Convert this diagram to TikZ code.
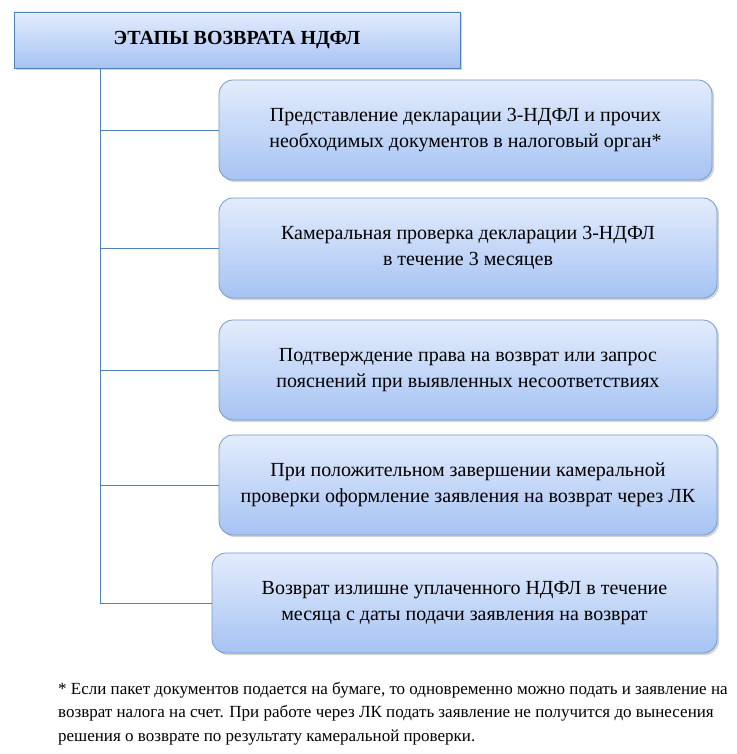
\documentclass[tikz,border=0pt]{standalone}
\usepackage{fontspec}
\setmainfont{Liberation Serif}
\usetikzlibrary{shadows}
\definecolor{bord}{HTML}{4F81BD}
\definecolor{gtop}{HTML}{E3ECFC}
\definecolor{gbot}{HTML}{A6C3F3}
\tikzset{
 stage/.style={draw=bord!80, line width=0.8pt, rounded corners=14pt, top color=gtop, bottom color=gbot,
   drop shadow={shadow xshift=2pt,shadow yshift=-2pt,opacity=0.35}, align=center, font=\fontsize{20}{26}\selectfont, inner sep=0pt},
 titlebox/.style={draw=bord, line width=0.8pt, top color=gtop, bottom color=gbot,
   drop shadow={shadow xshift=2pt,shadow yshift=-2pt,opacity=0.35}, font=\bfseries\fontsize{20}{24}\selectfont, inner sep=0pt},
 conn/.style={draw=bord, line width=0.8pt}
}
\begin{document}
\begin{tikzpicture}[x=1pt,y=-1pt]
\useasboundingbox (0,0) rectangle (736,754);
\node[titlebox, minimum width=446pt, minimum height=56pt] (t) at (237,40) {ЭТАПЫ ВОЗВРАТА НДФЛ};
\node[stage, minimum width=493pt, minimum height=100pt] (s1) at (465.5,130) {Представление декларации 3-НДФЛ и прочих\\необходимых документов в налоговый орган*};
\node[stage, minimum width=498pt, minimum height=100pt] (s2) at (468,248) {Камеральная проверка декларации 3-НДФЛ\\в течение 3 месяцев};
\node[stage, minimum width=498pt, minimum height=100pt] (s3) at (468,370) {Подтверждение права на возврат или запрос\\пояснений при выявленных несоответствиях};
\node[stage, minimum width=498pt, minimum height=100pt] (s4) at (468,485) {При положительном завершении камеральной\\проверки оформление заявления на возврат через ЛК};
\node[stage, minimum width=505pt, minimum height=100pt] (s5) at (464.5,603) {Возврат излишне уплаченного НДФЛ в течение\\месяца с даты подачи заявления на возврат};
\coordinate (top) at (100,68);
\coordinate (bot) at (100,603);
\draw[conn] (t.south -| top) -- (bot);
\foreach \s in {s1,s2,s3,s4,s5}{\draw[conn] (\s.west -| top) -- (\s.west);}
\node[anchor=north west, align=left, font=\fontsize{17}{23.5}\selectfont, inner sep=0pt] (fn) at (58,682)
 {* Если пакет документов подается на бумаге, то одновременно можно подать и заявление на\\возврат налога на счет. При работе через ЛК подать заявление не получится до вынесения\\решения о возврате по результату камеральной проверки.};
\end{tikzpicture}
\end{document}
